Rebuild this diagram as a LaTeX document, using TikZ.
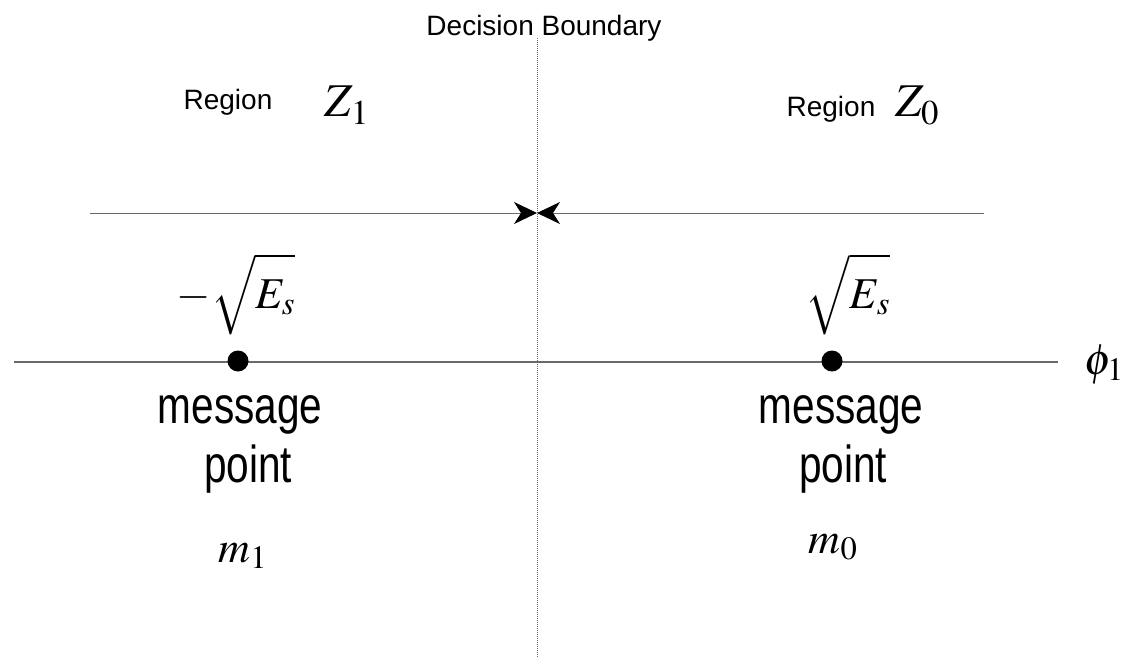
\documentclass[tikz,border=0pt]{standalone}
\usepackage{mathptmx}
\usepackage[no-math]{fontspec}
\usepackage{graphicx}
\setmainfont{Liberation Sans}
\usetikzlibrary{arrows.meta,positioning}
\definecolor{axisgray}{RGB}{105,105,105}
\newcommand{\narrowtext}[1]{\scalebox{0.78}[1]{#1}}
\newcommand{\rootE}{\sqrt{\vphantom{\big|}E_s}}

\begin{document}
\begin{tikzpicture}[x=1pt,y=-1pt,
    axis/.style={draw=axisgray, line width=1.4pt},
    boundary/.style={draw=axisgray, line width=1pt, densely dotted},
    meet/.style={-{Stealth[length=23pt,width=22pt,inset=7pt,color=black]}},
    title/.style={anchor=base, font=\fontsize{28}{32}\selectfont},
    region/.style={anchor=base, font=\fontsize{28}{32}\selectfont},
    msg/.style={anchor=base, font=\fontsize{52}{56}\selectfont},
    sym/.style={anchor=base, font=\fontsize{44}{48}\selectfont},
    point/.style={circle, fill=black, inner sep=0pt, minimum size=21pt}]
    \useasboundingbox (0,0) rectangle (1124,658);

    % decision boundary
    \node[title] (db) at (544,36) {Decision Boundary};
    \coordinate (dbtop) at (537,38);
    \coordinate (dbbot) at (537,658);
    \draw[boundary] (dbtop) -- (dbbot);

    % regions
    \node[region] (regL) at (228,110) {Region};
    \node[sym, font=\fontsize{47}{50}\selectfont] (z1) at (347,117) {$Z_1$};
    \node[region] (regR) at (831,117) {Region};
    \node[sym, font=\fontsize{47}{50}\selectfont] (z0) at (917,117) {$Z_0$};

    % arrows meeting at the boundary
    \coordinate (upL) at (90,213);
    \coordinate (upR) at (984,213);
    \coordinate (upM) at (537,213);
    \draw[axis, line width=1pt, meet] (upL) -- (upM);
    \draw[axis, line width=1pt, meet] (upR) -- (upM);

    % signal axis
    \coordinate (axW) at (14,362);
    \coordinate (axE) at (1058,362);
    \draw[axis] (axW) -- (axE);
    \node[sym] (phi) at (1104,374) {$\phi_1$};

    % message points
    \node[point] (p1) at (238,361) {};
    \node[point] (p0) at (832,361) {};
    \node[sym] (e1) at (236,308) {$-\rootE$};
    \node[sym] (e0) at (848,308) {$\rootE$};

    \node[msg] (msg1) at (240,423) {\narrowtext{message}};
    \node[msg] (pt1) at (248,482) {\narrowtext{point}};
    \node[sym] (m1) at (243,562) {$m_1$};

    \node[msg] (msg0) at (841,423) {\narrowtext{message}};
    \node[msg] (pt0) at (843,482) {\narrowtext{point}};
    \node[sym] (m0) at (833,553) {$m_0$};
\end{tikzpicture}
\end{document}
